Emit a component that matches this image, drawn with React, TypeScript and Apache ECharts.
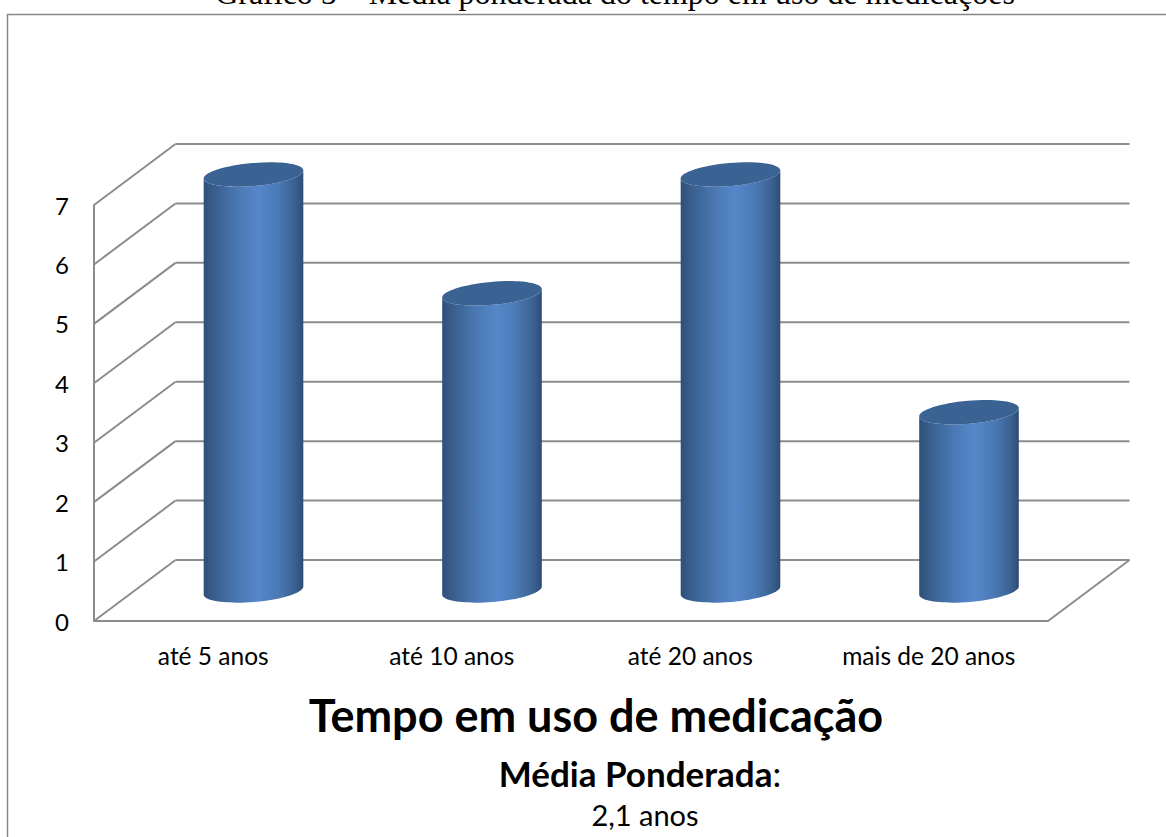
import React, { useEffect, useRef } from "react";
import * as echarts from "echarts";

const categories = ["até 5 anos", "até 10 anos", "até 20 anos", "mais de 20 anos"];
const values = [7, 5, 7, 3];
const wallTicks = [0, 1, 2, 3, 4, 5, 6, 7];
const pageTitle = "Gráfico 5 – Média ponderada do tempo em uso de medicações";
const axisTitle = "Tempo em uso de medicação";
const noteLabel = "Média Ponderada";
const noteValue = "2,1 anos";

const DX = 81.5;
const DY = -61;
const RX = 50;
const RY = 11.5;
const TILT = -5;
const K = 0.5523;
const LINE = "#8c8c8c";
const UI = "Lato, sans-serif";

export default function App() {
  const ref = useRef<HTMLDivElement>(null);
  useEffect(() => {
    const chart = echarts.init(ref.current!, undefined, { renderer: "svg" });
    const rad = (TILT * Math.PI) / 180;
    const ux = RX * Math.cos(rad);
    const uy = RX * Math.sin(rad);
    const vx = -RY * Math.sin(rad);
    const vy = RY * Math.cos(rad);
    // half an ellipse from c - s*u through c + d*v to c + s*u, as two cubic curves
    const half = (cx: number, cy: number, s: number, d: number) => {
      const p = (a: number, b: number) => `${cx + a * ux + b * vx} ${cy + a * uy + b * vy}`;
      return (
        `C${p(-s, d * K)} ${p(-s * K, d)} ${p(0, d)} ` +
        `C${p(s * K, d)} ${p(s, d * K)} ${p(s, 0)} `
      );
    };
    chart.setOption({
      animation: false,
      grid: { left: 94, right: 118, top: 205, bottom: 216, containLabel: false },
      xAxis: {
        type: "category",
        data: categories,
        axisTick: { show: false },
        axisLine: { lineStyle: { color: LINE, width: 2 } },
        axisLabel: { color: "#000", fontFamily: UI, fontSize: 24.5, margin: 22 },
      },
      yAxis: {
        type: "value",
        min: 0,
        max: 7,
        interval: 1,
        splitLine: { show: false },
        axisTick: { show: false },
        axisLine: { show: true, lineStyle: { color: LINE, width: 2 } },
        axisLabel: { color: "#000", fontFamily: UI, fontSize: 24, margin: 25 },
      },
      series: [
        {
          type: "custom",
          name: "walls",
          data: wallTicks.map((t) => [0, t]),
          z: 1,
          silent: true,
          renderItem: (params: any, api: any) => {
            const g = params.coordSys;
            const y = api.coord([0, api.value(1)])[1];
            const style = { stroke: LINE, lineWidth: 2, fill: "none" };
            const kids: any[] = [
              { type: "line", shape: { x1: g.x, y1: y, x2: g.x + DX, y2: y + DY }, style },
              { type: "line", shape: { x1: g.x + DX, y1: y + DY, x2: g.x + g.width + DX, y2: y + DY }, style },
            ];
            if (api.value(1) === 0) {
              kids.push({
                type: "line",
                shape: { x1: g.x + g.width, y1: y, x2: g.x + g.width + DX, y2: y + DY },
                style,
              });
            }
            return { type: "group", children: kids };
          },
        },
        {
          type: "custom",
          name: "Tempo",
          data: values.map((v, i) => [i, v]),
          z: 3,
          renderItem: (params: any, api: any) => {
            const top = api.coord([api.value(0), api.value(1)]);
            const base = api.coord([api.value(0), 0]);
            const cx = top[0] + DX / 2 - 0.5;
            const ty = top[1] + DY / 2;
            const by = base[1] + DY / 2;
            const body =
              `M${cx - ux} ${ty - uy} L${cx - ux} ${by - uy} ` +
              half(cx, by, 1, 1) +
              `L${cx + ux} ${ty + uy} ` +
              half(cx, ty, -1, 1) +
              "Z";
            const cap =
              `M${cx - ux} ${ty - uy} ` + half(cx, ty, 1, -1) + half(cx, ty, -1, 1) + "Z";
            return {
              type: "group",
              children: [
                {
                  type: "path",
                  shape: { pathData: body },
                  style: {
                    fill: new echarts.graphic.LinearGradient(0, 0, 1, 0, [
                      { offset: 0, color: "#2f4f7a" },
                      { offset: 0.12, color: "#3a6090" },
                      { offset: 0.35, color: "#4b79b5" },
                      { offset: 0.55, color: "#5587ca" },
                      { offset: 0.75, color: "#4b79b5" },
                      { offset: 0.92, color: "#3a6090" },
                      { offset: 1, color: "#2d4c76" },
                    ]),
                  },
                },
                { type: "path", shape: { pathData: cap }, style: { fill: "#3a6293" } },
              ],
            };
          },
        },
      ],
      graphic: [
        {
          type: "rect",
          silent: true,
          shape: { x: 7.5, y: 14.5, width: 1300, height: 1000 },
          style: { fill: "none", stroke: "#868686", lineWidth: 1.5 },
        },
        {
          type: "text",
          x: 615,
          y: 9,
          style: {
            text: pageTitle,
            fontFamily: "'Liberation Serif', serif",
            fontSize: 32,
            fill: "#000",
            textAlign: "center",
            textVerticalAlign: "bottom",
          },
        },
        {
          type: "text",
          x: 596,
          y: 715,
          style: {
            text: axisTitle,
            fontFamily: UI,
            fontWeight: "bold",
            fontSize: 45,
            fill: "#000",
            textAlign: "center",
            textVerticalAlign: "middle",
          },
        },
        {
          type: "text",
          x: 640,
          y: 773,
          style: {
            text: `{b|${noteLabel}}{n|:}`,
            textAlign: "center",
            textVerticalAlign: "middle",
            rich: {
              b: { fontFamily: UI, fontWeight: "bold", fontSize: 35, fill: "#000" },
              n: { fontFamily: UI, fontSize: 35, fill: "#000" },
            },
          },
        },
        {
          type: "text",
          x: 645,
          y: 814,
          style: {
            text: noteValue,
            fontFamily: UI,
            fontSize: 29,
            fill: "#000",
            textAlign: "center",
            textVerticalAlign: "middle",
          },
        },
      ],
    });
    return () => chart.dispose();
  }, []);
  return (
    <div
      ref={ref}
      style={{ position: "fixed", left: 0, top: 0, width: 1166, height: 837, background: "#fff", overflow: "hidden" }}
    />
  );
}
